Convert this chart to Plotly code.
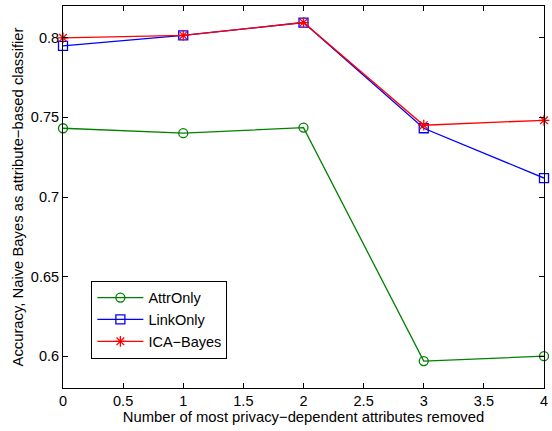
import plotly.graph_objects as go

# Number of removed attributes and classifier accuracy per method
removed = [0, 1, 2, 3, 4]
attr_only = [0.7432, 0.7401, 0.7436, 0.5969, 0.6000]
link_only = [0.7950, 0.8015, 0.8096, 0.7432, 0.7119]
ica_bayes = [0.8000, 0.8015, 0.8096, 0.7451, 0.7482]

x_ticks = [0, 0.5, 1, 1.5, 2, 2.5, 3, 3.5, 4]
y_ticks = [0.6, 0.65, 0.7, 0.75, 0.8]

FONT = "Liberation Sans, Arial, Helvetica, sans-serif"

fig = go.Figure()
series = [
    ("AttrOnly", attr_only, "#008000", "circle-open"),
    ("LinkOnly", link_only, "#0000ff", "square-open"),
    ("ICA\u2212Bayes", ica_bayes, "#ff0000", "asterisk-open"),
]
for name, vals, color, sym in series:
    fig.add_trace(go.Scatter(
        x=removed, y=vals, name=name, mode="lines+markers",
        line=dict(color=color, width=1.3),
        marker=dict(symbol=sym, size=9, color=color,
                    line=dict(color=color, width=1.3)),
        cliponaxis=False,
    ))

axis_common = dict(
    showgrid=False, zeroline=False, showline=True, linecolor="black",
    linewidth=1, mirror="ticks", ticks="inside", ticklen=5,
    tickcolor="black", tickfont=dict(family=FONT, size=14.5, color="black"),
    ticklabeloverflow="allow",
)

fig.update_layout(
    width=552, height=431,
    margin=dict(l=63, r=4, t=6, b=43),
    paper_bgcolor="white", plot_bgcolor="white",
    font=dict(family=FONT, color="black"),
    xaxis=dict(range=[0, 4], tickvals=x_ticks,
               ticktext=[f"{v:g}" for v in x_ticks],
               title=dict(text="Number of most privacy\u2212dependent attributes removed",
                          font=dict(size=14.8), standoff=1),
               **axis_common),
    yaxis=dict(range=[0.58, 0.82], tickvals=y_ticks,
               ticktext=[f"{v:g}" for v in y_ticks],
               title=dict(text="Accuracy, Naive Bayes as attribute\u2212based classifier",
                          font=dict(size=14.8), standoff=3),
               **axis_common),
    legend=dict(x=0.059, y=0.281, xanchor="left", yanchor="top",
                bgcolor="white", bordercolor="black", borderwidth=1,
                font=dict(family=FONT, size=14.5), tracegroupgap=0,
                itemwidth=46),
    showlegend=True,
)

fig.write_html("out.html")
